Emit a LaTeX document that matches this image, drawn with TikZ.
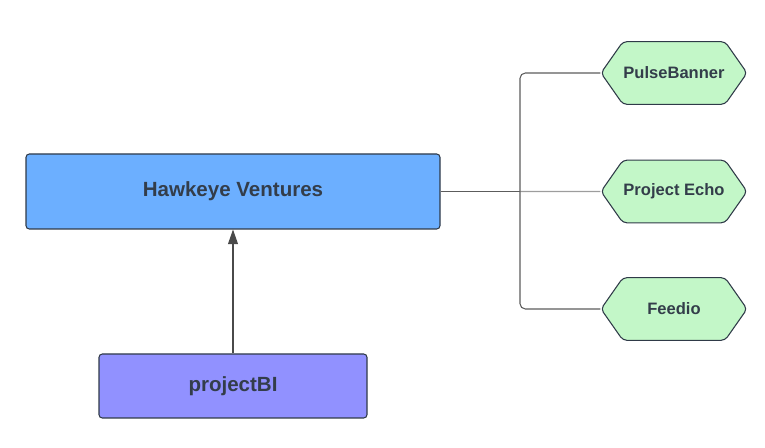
\documentclass[tikz,border=0pt]{standalone}
\usepackage{fontspec}
\setmainfont{Liberation Sans}
\usepackage{tikz}
\usetikzlibrary{shapes.symbols,arrows.meta}

\definecolor{inkgray}{HTML}{333D4A}
\definecolor{edgegray}{HTML}{2F3A48}
\definecolor{wiregray}{HTML}{5C5C5C}
\definecolor{ventureblue}{HTML}{6CAFFF}
\definecolor{bipurple}{HTML}{9191FF}
\definecolor{prodgreen}{HTML}{C3F7C8}

\begin{document}
\begin{tikzpicture}[x=0.75pt,y=-0.75pt,
    company/.style={draw=edgegray,line width=0.8pt,rounded corners=2.5pt,inner sep=0pt,
      text=inkgray,font=\bfseries\fontsize{15.4}{18}\selectfont},
    product/.style={signal,signal to=east and west,signal pointer angle=110,
      draw=edgegray,line width=0.8pt,rounded corners=3pt,fill=prodgreen,inner sep=0pt,
      minimum width=109.5pt,minimum height=47pt,
      text=inkgray,font=\bfseries\fontsize{12.4}{15}\selectfont},
    wire/.style={wiregray,line width=0.8pt,rounded corners=4pt}]
  \useasboundingbox (0,0) rectangle (765,448);

  % the two company boxes
  \node [company,fill=ventureblue,minimum width=310.5pt,minimum height=56.25pt] (hawkeye) at (233,191.5) {Hawkeye Ventures};
  \node [company,fill=bipurple,minimum width=201pt,minimum height=48pt] (projbi) at (233,386) {projectBI};

  % products
  \node [product] (pulse) at (674,73) {PulseBanner};
  \node [product] (echo) at (674,191.5) {Project Echo};
  \node [product] (feedio) at (674,309) {Feedio};

  \coordinate (split) at (520,191.5);

  \draw [wiregray!80!black,line width=0.8pt,-{Triangle[length=11pt,width=7.5pt]}] (projbi) -- (hawkeye);
  \draw [wiregray,line width=1.3pt] (hawkeye) -- (split);
  \draw [wiregray!60,line width=0.8pt] (split) -- (echo);
  \foreach \p in {pulse,feedio}
    \draw [wire] (split) |- (\p.west);
\end{tikzpicture}
\end{document}
